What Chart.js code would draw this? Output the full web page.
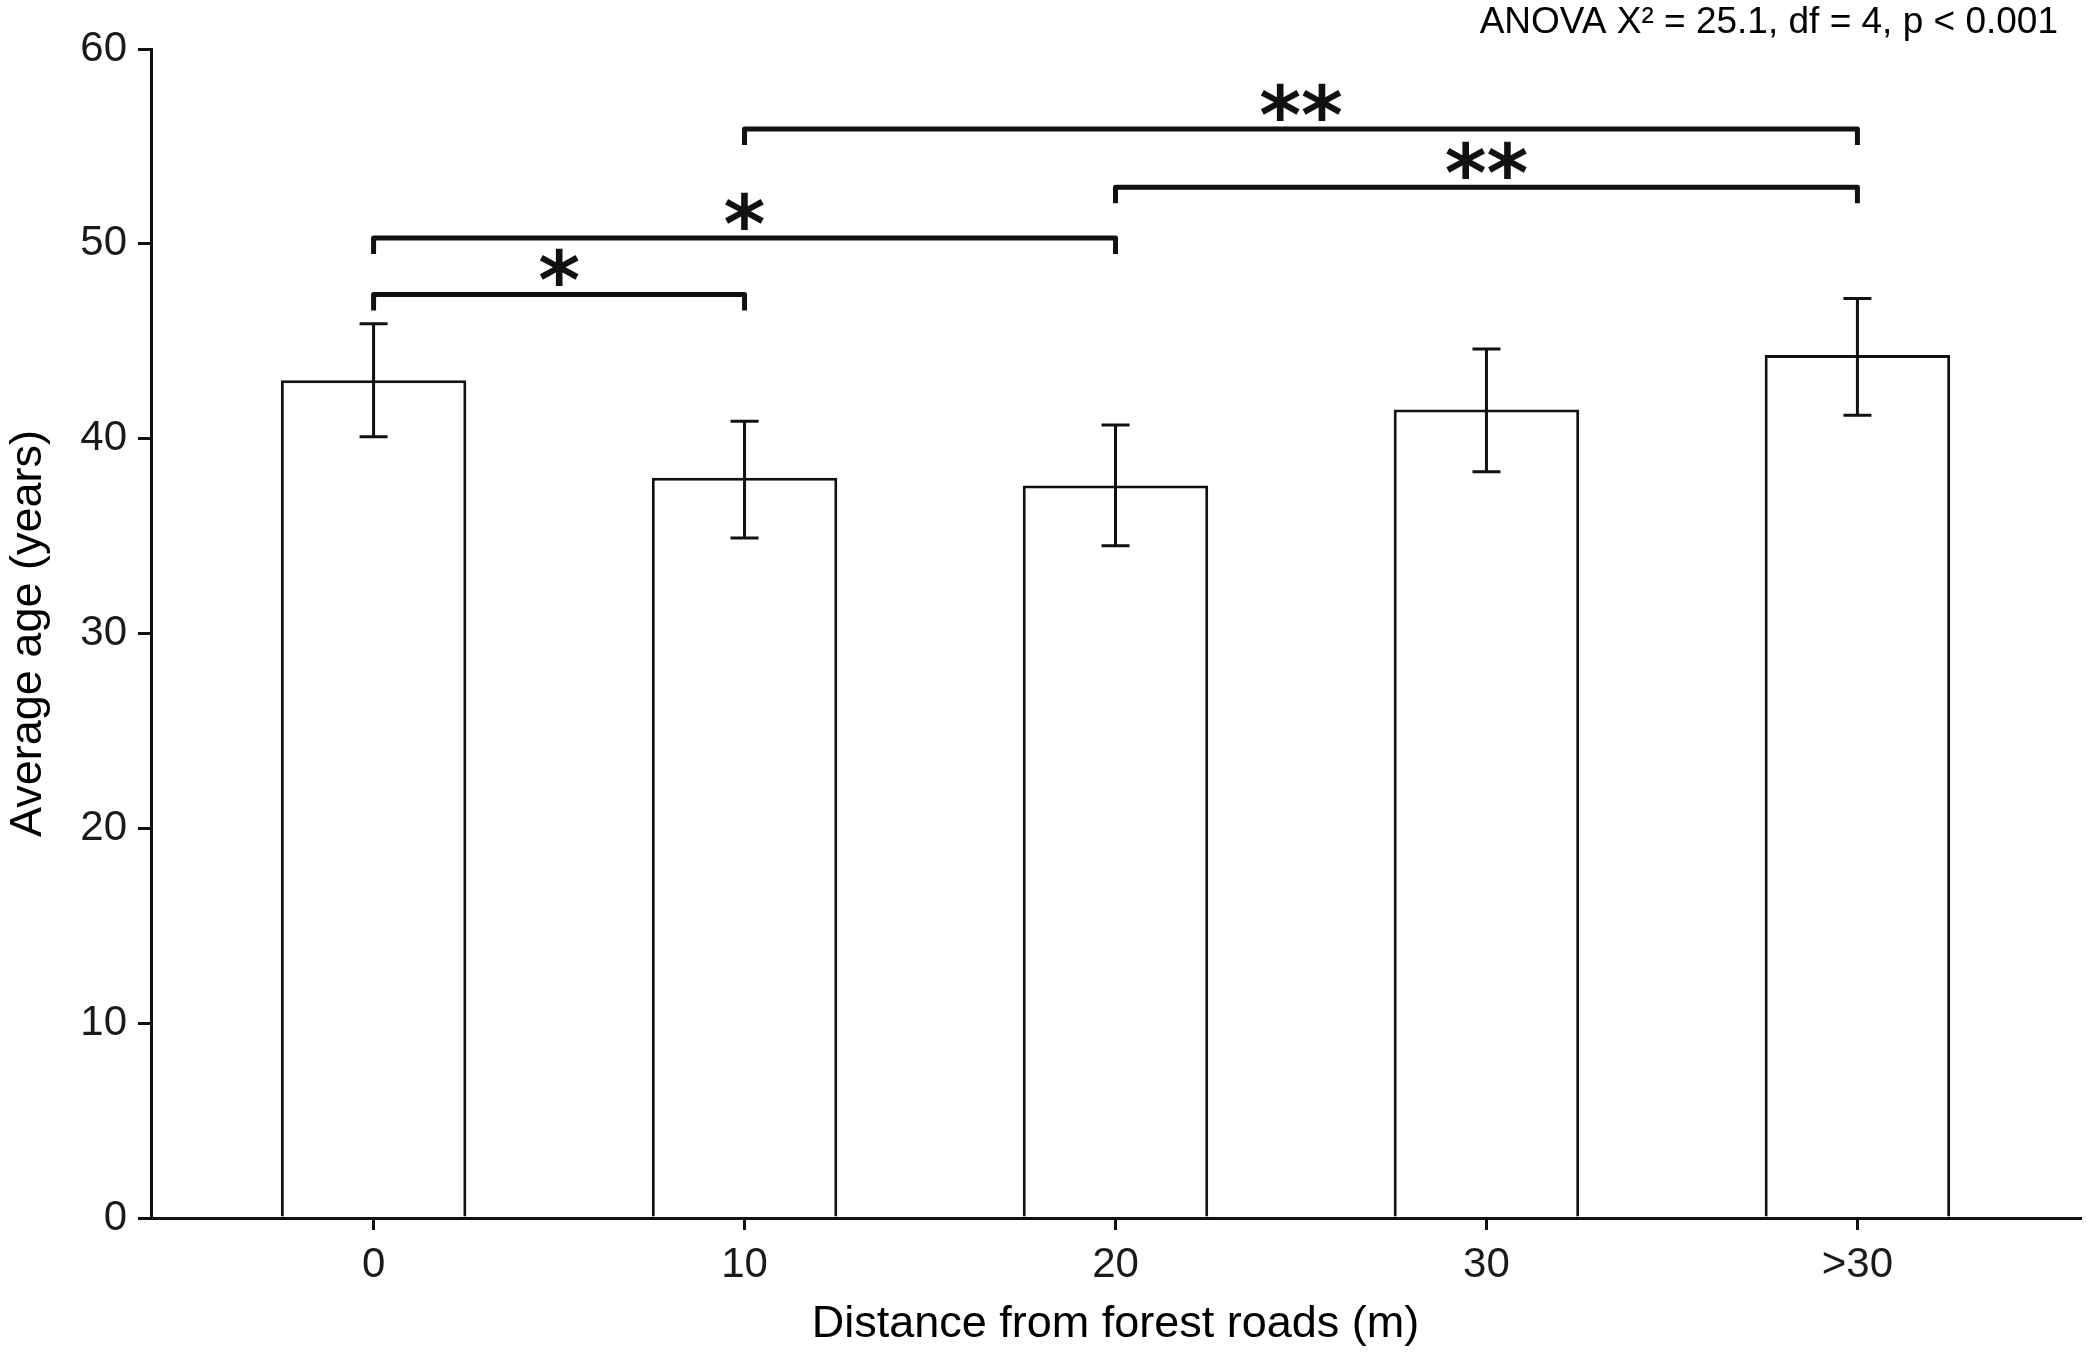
<!DOCTYPE html>
<html>
<head>
<meta charset="utf-8">
<script src="https://cdn.jsdelivr.net/npm/chart.js@4.4.1/dist/chart.umd.min.js"></script>
<style>
  html, body { margin: 0; padding: 0; background: #ffffff; }
  canvas { display: block; }
</style>
</head>
<body>
<canvas id="c" width="2087" height="1352" style="width:2087px;height:1352px"></canvas>
<script>
// ---- data ----
const xLabels = ['0', '10', '20', '30', '>30'];
const means   = [43.0, 38.0, 37.6, 41.5, 44.3];
const errLow  = [40.1, 34.9, 34.5, 38.3, 41.2];
const errHigh = [45.9, 40.9, 40.7, 44.6, 47.2];
const compFrom  = [0, 0, 1, 2];
const compTo    = [1, 2, 4, 4];
const compY     = [47.4, 50.3, 55.9, 52.9];
const compLabel = ['*', '*', '**', '**'];
const yTickValues = [0, 10, 20, 30, 40, 50, 60];
const statText = 'ANOVA X\u00B2 = 25.1, df = 4, p < 0.001';

const INK = '#111111';
const FONT = "'Liberation Sans', Arial, sans-serif";

const annotations = {
  id: 'annotations',
  afterDatasetsDraw(chart) {
    const ctx = chart.ctx;
    const xs = chart.scales.x, ys = chart.scales.y;
    ctx.save();
    // error bars
    ctx.strokeStyle = INK;
    ctx.lineWidth = 3;
    ctx.lineCap = 'butt';
    const cap = 14;
    for (let i = 0; i < means.length; i++) {
      const x = xs.getPixelForValue(i);
      const y1 = ys.getPixelForValue(errLow[i]);
      const y2 = ys.getPixelForValue(errHigh[i]);
      ctx.beginPath();
      ctx.moveTo(x, y1); ctx.lineTo(x, y2);
      ctx.moveTo(x - cap, y1); ctx.lineTo(x + cap, y1);
      ctx.moveTo(x - cap, y2); ctx.lineTo(x + cap, y2);
      ctx.stroke();
    }
    // significance brackets
    ctx.lineWidth = 5;
    ctx.lineJoin = 'round';
    const drop = 16;
    for (let k = 0; k < compFrom.length; k++) {
      const xa = xs.getPixelForValue(compFrom[k]);
      const xb = xs.getPixelForValue(compTo[k]);
      const y = ys.getPixelForValue(compY[k]);
      ctx.beginPath();
      ctx.moveTo(xa, y + drop);
      ctx.lineTo(xa, y);
      ctx.lineTo(xb, y);
      ctx.lineTo(xb, y + drop);
      ctx.stroke();
      // stars
      ctx.fillStyle = INK;
      ctx.font = "bold 80px 'DejaVu Sans', sans-serif";
      ctx.textAlign = 'center';
      ctx.textBaseline = 'alphabetic';
      const m = ctx.measureText(compLabel[k]);
      const cy = y - 27;
      const by = cy + (m.actualBoundingBoxAscent - m.actualBoundingBoxDescent) / 2;
      ctx.fillText(compLabel[k], (xa + xb) / 2, by);
    }
    // statistics text
    ctx.font = "37px " + FONT;
    ctx.textAlign = 'right';
    ctx.textBaseline = 'alphabetic';
    ctx.fillStyle = '#000000';
    ctx.fillText(statText, 2058, 33);
    ctx.restore();
  }
};

new Chart(document.getElementById('c'), {
  type: 'bar',
  data: {
    datasets: [{
      data: means.map((v, i) => ({ x: i, y: v })),
      backgroundColor: '#ffffff',
      borderColor: INK,
      borderWidth: 3,
      barPercentage: 0.5,
      categoryPercentage: 1.0
    }]
  },
  options: {
    responsive: false,
    devicePixelRatio: 1,
    animation: false,
    layout: { padding: { top: 49, right: 7, left: 0, bottom: 0 } },
    plugins: { legend: { display: false }, tooltip: { enabled: false }, title: { display: false } },
    scales: {
      x: {
        type: 'linear',
        min: -0.6,
        max: 4.6,
        offset: false,
        afterBuildTicks: (s) => { s.ticks = xLabels.map((_, i) => ({ value: i })); },
        afterFit: (s) => { s.height = 134; },
        ticks: {
          callback: (v) => xLabels[v],
          color: '#1a1a1a',
          font: { family: FONT, size: 42 },
          padding: 10,
          maxRotation: 0,
          autoSkip: false
        },
        grid: { offset: false, drawOnChartArea: false, drawTicks: true, tickLength: 12, color: INK, lineWidth: 3 },
        border: { display: true, color: INK, width: 3 },
        title: {
          display: true,
          text: 'Distance from forest roads (m)',
          color: '#000000',
          font: { family: FONT, size: 45 },
          padding: { top: 0, bottom: 0 }
        }
      },
      y: {
        min: 0,
        max: 60,
        afterBuildTicks: (s) => { s.ticks = yTickValues.map(v => ({ value: v })); },
        afterFit: (s) => { s.width = 151; },
        ticks: {
          color: '#1a1a1a',
          font: { family: FONT, size: 42 },
          padding: 11
        },
        grid: { drawOnChartArea: false, drawTicks: true, tickLength: 13, color: INK, lineWidth: 3 },
        border: { display: true, color: INK, width: 3 },
        title: {
          display: true,
          text: 'Average age (years)',
          color: '#000000',
          font: { family: FONT, size: 45 },
          padding: { top: 2, bottom: 0 }
        }
      }
    }
  },
  plugins: [annotations]
});
</script>
</body>
</html>
